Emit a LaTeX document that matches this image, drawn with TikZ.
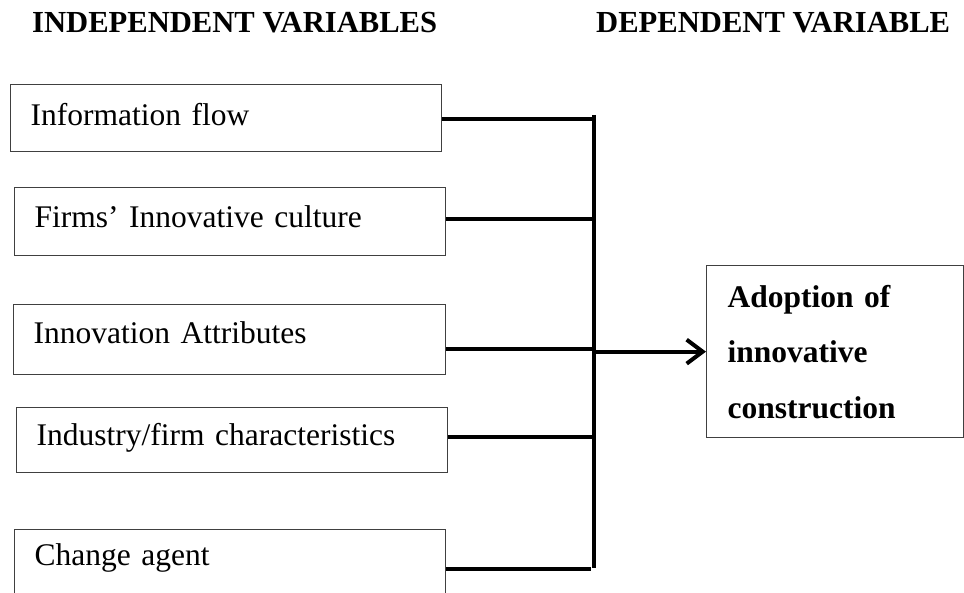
\documentclass[tikz,border=0pt]{standalone}
\usepackage{fontspec}
\setmainfont{Liberation Serif}
\usetikzlibrary{arrows.meta}
\begin{document}
\begin{tikzpicture}[x=1pt,y=-1pt,
  ivbox/.style={draw=black!75, line width=1.3pt, anchor=north west, inner xsep=20pt, inner ysep=0pt, align=left, font=\fontsize{31.5}{38}\selectfont},
  dvbox/.style={draw=black!75, line width=1.3pt, anchor=north west, inner xsep=21pt, inner ysep=0pt, align=left, font=\bfseries\fontsize{31.5}{55.5}\selectfont},
  conn/.style={line width=4pt},
  hdr/.style={anchor=base west, inner sep=0pt, font=\bfseries\fontsize{30.6}{36}\selectfont}]
\clip (0,0) rectangle (964,593);
\fill[white] (0,0) rectangle (964,593);

% headers
\node[hdr] (ivh) at (32,33) {INDEPENDENT VARIABLES};
\node[hdr] (dvh) at (596,33) {DEPENDENT VARIABLE};

% independent variable boxes
\node[ivbox, text width=391pt, text height=41pt, text depth=26pt] (b1) at (10,84) {Information flow};
\node[ivbox, text width=391pt, text height=40pt, text depth=28pt] (b2) at (14,187) {Firms’ Innovative culture};
\node[ivbox, text width=392pt, text height=39pt, text depth=31pt] (b3) at (13,304) {Innovation Attributes};
\node[ivbox, text width=391pt, text height=38pt, text depth=27pt] (b4) at (16,407) {Industry/firm characteristics};
\node[ivbox, text width=391pt, text height=36pt, text depth=60pt] (b5) at (14,529) {Change agent};

% dependent variable box
\node[dvbox, text width=215pt, minimum height=172pt] (dv) at (706,265) {Adoption of\\innovative\\construction};

% bus
\coordinate (bustop) at (594,115);
\coordinate (busbot) at (594,568);
\coordinate (j1) at (594,119);
\coordinate (j2) at (594,219);
\coordinate (j3) at (594,349);
\coordinate (j4) at (594,437);
\coordinate (j5) at (591,569);

\draw[conn] (bustop) -- (busbot);
\draw[conn] (b1.east |- j1) -- (j1);
\draw[conn] (b2.east |- j2) -- (j2);
\draw[conn] (b3.east |- j3) -- (j3);
\draw[conn] (b4.east |- j4) -- (j4);
\draw[conn] (b5.east |- j5) -- (j5);
\draw[conn, -{Straight Barb[length=16pt,width=24pt]}] (dv.west -| bustop) -- (dv.west);
\end{tikzpicture}
\end{document}
